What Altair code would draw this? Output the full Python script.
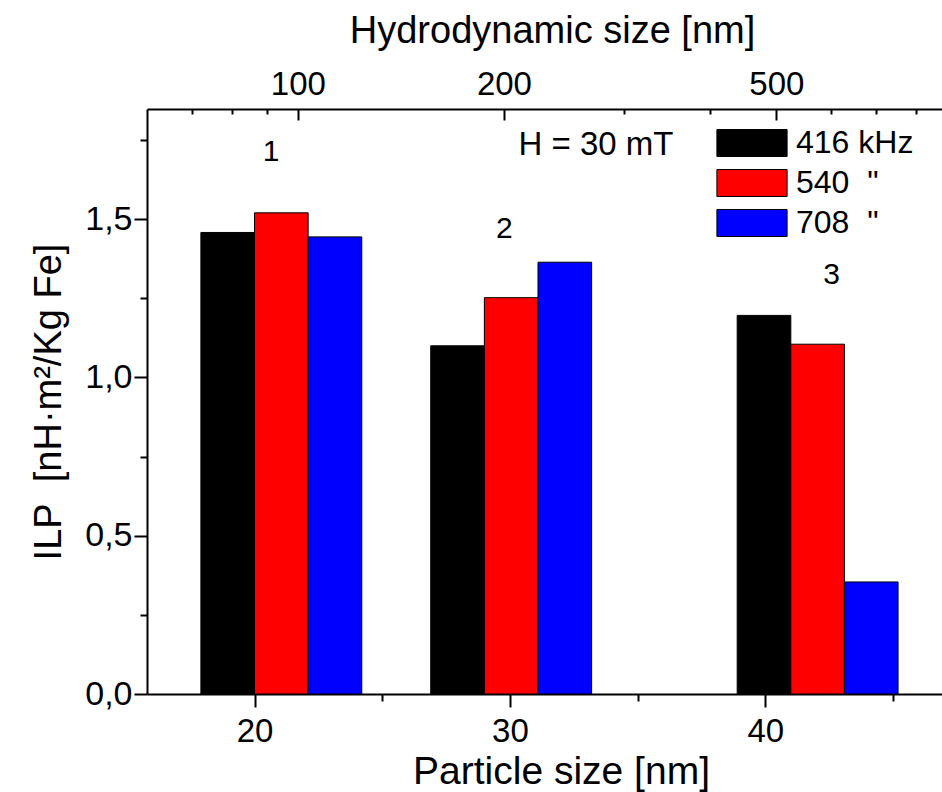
import altair as alt
import pandas as pd

# ---------------- data ----------------
frequencies = ["416 kHz", "540\u00a0\u00a0\"", "708\u00a0\u00a0\""]
colors = ["#000000", "#ff0000", "#0000ff"]
group_labels = ["1", "2", "3"]
group_start = [17.9, 26.9, 38.9]      # particle-size units, left edge of each group
bar_width = 2.1
ilp_416 = [1.458, 1.100, 1.196]
ilp_540 = [1.520, 1.252, 1.105]
ilp_708 = [1.444, 1.364, 0.354]
label_x = [20.65, 29.78, 42.6]
label_y = [1.713, 1.469, 1.325]
particle_ticks = [20, 30, 40]
particle_minor = [25, 35, 45]
hydro_ticks = [100, 200, 500]
hydro_minor = [70, 80, 90, 300, 400, 600, 700, 800]
y_ticks = [0.0, 0.5, 1.0, 1.5]
y_minor = [0.25, 0.75, 1.25, 1.75]
field_text = ["H = 30 mT"]
field_x = [33.37]
field_y = [1.734]

FONT = "Liberation Sans"

rows = []
series = [ilp_416, ilp_540, ilp_708]
for g in range(3):
    for i, f in enumerate(frequencies):
        x0 = group_start[g] + i * bar_width
        rows.append({"x0": x0, "x1": x0 + bar_width, "ilp": series[i][g], "freq": f})
bars_df = pd.DataFrame(rows)
labels_df = pd.DataFrame({"lx": label_x, "ly": label_y, "t": group_labels})
field_df = pd.DataFrame({"x": field_x, "y": field_y, "t": field_text})

x_scale = alt.Scale(domain=[15.79, 46.92], nice=False, zero=False)
y_scale = alt.Scale(domain=[0, 1.848], nice=False, zero=False)
top_scale = alt.Scale(type="log", domain=[60.2, 873], nice=False)

bars = alt.Chart(bars_df).mark_rect(stroke="black", strokeWidth=1).encode(
    x=alt.X("x0:Q", scale=x_scale,
            axis=alt.Axis(orient="bottom", values=particle_ticks, tickSize=13,
                          labelFontSize=33, labelPadding=8, format="d",
                          title="Particle size [nm]", titleFontSize=39,
                          titlePadding=4, titleX=414)),
    x2="x1:Q",
    y=alt.Y("ilp:Q", scale=y_scale,
            axis=alt.Axis(orient="left", values=y_ticks, tickSize=13,
                          labelFontSize=34, labelPadding=2,
                          labelExpr="replace(format(datum.value, '.1f'), '.', ',')",
                          title="ILP\u00a0\u00a0[nH\u00b7m\u00b2/Kg Fe]", titleFontSize=38,
                          titlePadding=16)),
    y2=alt.datum(0),
    color=alt.Color("freq:N", scale=alt.Scale(domain=frequencies, range=colors),
                    legend=alt.Legend(
                        orient="none", legendX=589, legendY=18, title=None,
                        symbolType="M-2.6,-1H2.6V1H-2.6Z", symbolSize=729,
                        symbolStrokeColor="black", symbolStrokeWidth=1,
                        symbolOpacity=1, labelFontSize=32, labelFont=FONT,
                        labelColor="black", labelOffset=28, rowPadding=8,
                        padding=0)),
)

group_text = alt.Chart(labels_df).mark_text(fontSize=30, font=FONT, color="black",
                                            baseline="middle").encode(
    x=alt.X("lx:Q", scale=x_scale, axis=None),
    y=alt.Y("ly:Q", scale=y_scale, axis=None),
    text="t:N",
)

field_label = alt.Chart(field_df).mark_text(fontSize=33, font=FONT, color="black",
                                            baseline="middle").encode(
    x=alt.X("x:Q", scale=x_scale, axis=None),
    y=alt.Y("y:Q", scale=y_scale, axis=None),
    text="t:N",
)

bottom_minor = alt.Chart(pd.DataFrame({"v": particle_minor})).mark_point(opacity=0).encode(
    x=alt.X("v:Q", scale=x_scale,
            axis=alt.Axis(orient="bottom", values=particle_minor, labels=False,
                          domain=False, tickSize=7, title=None)),
)

left_minor = alt.Chart(pd.DataFrame({"v": y_minor})).mark_point(opacity=0).encode(
    y=alt.Y("v:Q", scale=y_scale,
            axis=alt.Axis(orient="left", values=y_minor, labels=False,
                          domain=False, tickSize=7, title=None)),
)

top_major = alt.Chart(pd.DataFrame({"h": hydro_ticks})).mark_point(opacity=0).encode(
    x=alt.X("h:Q", scale=top_scale,
            axis=alt.Axis(orient="top", values=hydro_ticks, offset=-11, tickSize=11,
                          domain=False, labelFontSize=33, labelPadding=8, format="d",
                          title="Hydrodynamic size [nm]", titleFontSize=38,
                          titlePadding=18, titleX=405)),
)

top_minor = alt.Chart(pd.DataFrame({"h": hydro_minor})).mark_point(opacity=0).encode(
    x=alt.X("h:Q", scale=top_scale,
            axis=alt.Axis(orient="top", values=hydro_minor, offset=-5, tickSize=5,
                          domain=False, labels=False, title=None)),
)

top_frame = alt.Chart(pd.DataFrame({"h": hydro_ticks})).mark_point(opacity=0).encode(
    x=alt.X("h:Q", scale=top_scale,
            axis=alt.Axis(orient="top", values=[], ticks=False, labels=False,
                          domain=True, title=None)),
)

chart = alt.layer(
    bars, group_text, field_label, bottom_minor, left_minor, top_major, top_minor, top_frame
).resolve_scale(
    x="independent", y="independent"
).resolve_axis(
    x="independent", y="independent"
).properties(
    width=795, height=585,
    autosize=alt.AutoSizeParams(type="none"),
    padding={"left": 147, "top": 109, "right": 0, "bottom": 98},
).configure_view(
    stroke=None
).configure_axis(
    grid=False, domainColor="black", domainWidth=2, tickColor="black", tickWidth=2,
    labelColor="black", titleColor="black", labelFont=FONT, titleFont=FONT,
    titleFontWeight="normal",
)

chart.save("out.html", embed_options={"renderer": "svg", "actions": False})
